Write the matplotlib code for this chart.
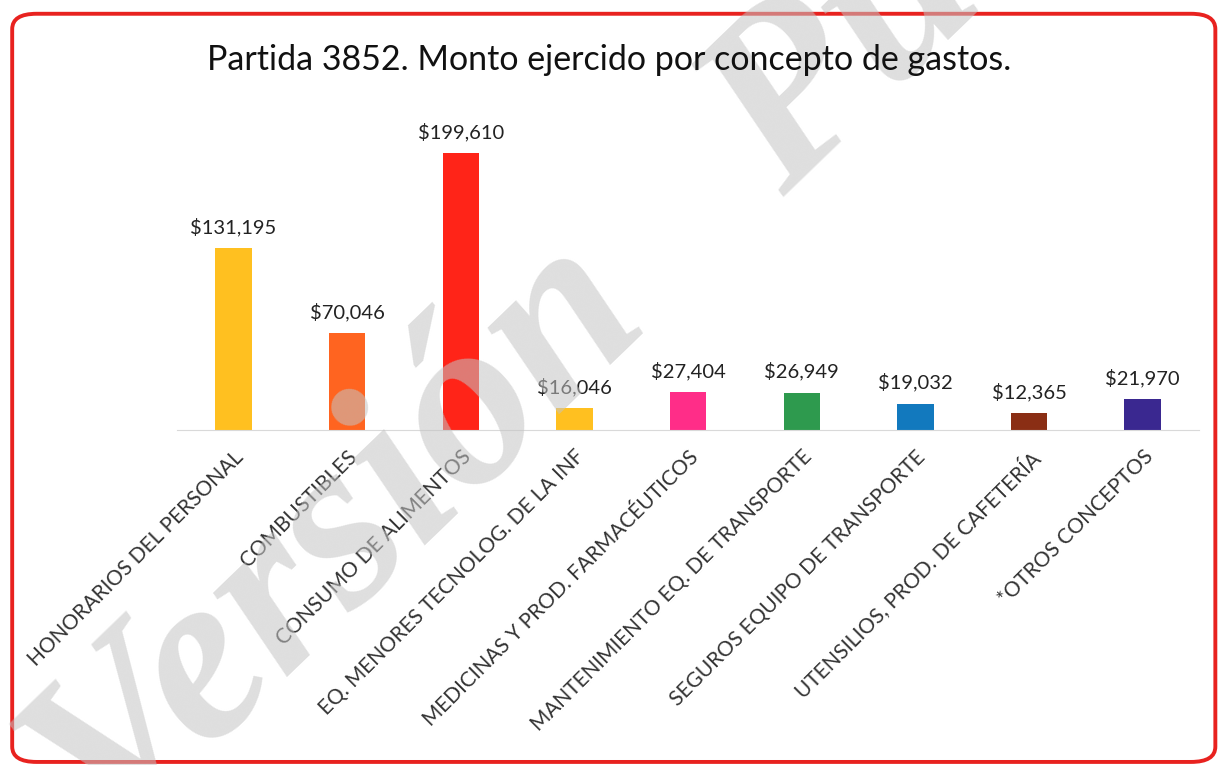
import matplotlib
matplotlib.use("Agg")
import matplotlib.pyplot as plt
from matplotlib.patches import FancyBboxPatch

conceptos = ['HONORARIOS DEL PERSONAL', 'COMBUSTIBLES', 'CONSUMO DE ALIMENTOS',
             'EQ. MENORES TECNOLOG. DE LA INF', 'MEDICINAS Y PROD. FARMACÉUTICOS',
             'MANTENIMIENTO EQ. DE TRANSPORTE', 'SEGUROS EQUIPO DE TRANSPORTE',
             'UTENSILIOS, PROD. DE CAFETERÍA', '*OTROS CONCEPTOS']
montos = [131195, 70046, 199610, 16046, 27404, 26949, 19032, 12365, 21970]
colores = ['#FFC020', '#FF6420', '#FF2418', '#FFC020', '#FF2D88',
           '#2E9A4E', '#1279BE', '#8A2E14', '#3A2890']

plt.rcParams['font.family'] = ['Lato', 'DejaVu Sans']

fig = plt.figure(figsize=(12.19, 7.65), dpi=100)

# marco rojo redondeado
marco = FancyBboxPatch((0.010, 0.004), 0.987, 0.978, boxstyle='round,pad=0,rounding_size=0.02',
                       transform=fig.transFigure, fill=False, edgecolor='#E8221F', linewidth=2.8)
fig.patches.append(marco)

ax = fig.add_axes([0.145, 0.438, 0.839, 0.417])
ax.patch.set_alpha(0)
x = range(len(montos))
barras = ax.bar(x, montos, width=0.32, color=colores)
for xi, v in zip(x, montos):
    ax.text(xi, v + 8500, f'${v:,}', ha='center', va='bottom', fontsize=14.5, color='#222222')

ax.set_xlim(-0.5, 8.5)
ax.set_ylim(0, 230000)
ax.set_yticks([])
for s in ['top', 'left', 'right']:
    ax.spines[s].set_visible(False)
ax.spines['bottom'].set_color('#D9D9D9')
ax.set_xticks(list(x))
ax.set_xticklabels(conceptos, rotation=45, ha='right', rotation_mode='anchor',
                   fontsize=15, color='#333333')
ax.tick_params(axis='x', length=0, pad=12)

# marca de agua (encima de las barras, semitransparente)
fig.text(0.09, -0.11, 'Versión   Pública', fontsize=175, fontfamily='Liberation Serif',
         fontweight='bold', fontstyle='italic', color='#C4C4C4', alpha=0.55, rotation=44,
         rotation_mode='anchor', ha='left', va='baseline', zorder=1)

fig.text(0.5, 0.922, 'Partida 3852. Monto ejercido por concepto de gastos.',
         ha='center', va='center', fontsize=24.5, color='#111111', zorder=5)

fig.savefig('out.png', dpi=100)
